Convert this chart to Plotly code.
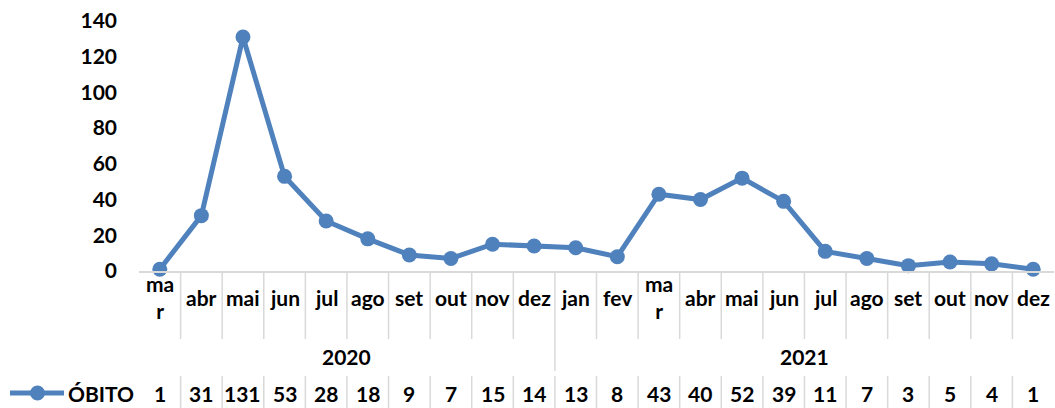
import plotly.graph_objects as go

months = ["mar", "abr", "mai", "jun", "jul", "ago", "set", "out", "nov", "dez",
          "jan", "fev", "mar", "abr", "mai", "jun", "jul", "ago", "set", "out", "nov", "dez"]
month_labels = ["ma<br>r" if m == "mar" else m for m in months]
years = ["2020", "2021"]
year_counts = [10, 12]
series_name = "ÓBITO"
obitos = [1, 31, 131, 53, 28, 18, 9, 7, 15, 14, 13, 8, 43, 40, 52, 39, 11, 7, 3, 5, 4, 1]
y_ticks = [0, 20, 40, 60, 80, 100, 120, 140]

W, H = 1055, 408
L, R_EDGE = 139, 1054
TOP, ZERO_Y = 21, 271
PH = ZERO_Y - TOP
PW = R_EDGE - L
COLOR = "#4F81BD"
GRID = "#D9D9D9"
FONT = dict(family="Lato", size=21, color="#000000")


def py(pix):
    return (ZERO_Y - pix) / PH


def px(pix):
    return (pix - L) / PW


n = len(obitos)
x = list(range(n))

fig = go.Figure()
fig.add_trace(go.Scatter(
    x=x, y=obitos, mode="lines+markers",
    line=dict(color=COLOR, width=5),
    marker=dict(color=COLOR, size=15),
    cliponaxis=False, showlegend=False, hoverinfo="skip",
))

annotations = []
shapes = []

# month labels
for i, lab in enumerate(month_labels):
    annotations.append(dict(x=i, y=py(297), xref="x", yref="paper", text=f"<b>{lab}</b>",
                            showarrow=False, font=FONT, xanchor="center", yanchor="middle"))
# data table values
for i, v in enumerate(obitos):
    annotations.append(dict(x=i, y=py(393), xref="x", yref="paper", text=f"<b>{v}</b>",
                            showarrow=False, font=FONT, xanchor="center", yanchor="middle"))
# year labels
start = 0
for yr, cnt in zip(years, year_counts):
    center = start - 0.5 + cnt / 2
    annotations.append(dict(x=center, y=py(356), xref="x", yref="paper", text=f"<b>{yr}</b>",
                            showarrow=False, font=FONT, xanchor="center", yanchor="middle"))
    start += cnt

# series label in table
annotations.append(dict(x=px(66), y=py(393), xref="paper", yref="paper", text=f"<b>{series_name}</b>",
                        showarrow=False, font=FONT, xanchor="left", yanchor="middle"))

# month dividers
year_bounds = []
acc = 0
for cnt in year_counts[:-1]:
    acc += cnt
    year_bounds.append(acc - 0.5)
for i in range(n - 1):
    b = i + 0.5
    y1 = py(371) if b in year_bounds else py(339)
    shapes.append(dict(type="line", xref="x", yref="paper", x0=b, x1=b, y0=py(272), y1=y1,
                       line=dict(color=GRID, width=1.5)))
    shapes.append(dict(type="line", xref="x", yref="paper", x0=b, x1=b, y0=py(376), y1=py(408),
                       line=dict(color=GRID, width=1.5)))

# legend key in table
shapes.append(dict(type="line", xref="paper", yref="paper", x0=px(10), x1=px(64), y0=py(393), y1=py(393),
                   line=dict(color=COLOR, width=5)))
shapes.append(dict(type="circle", xref="paper", yref="paper", x0=px(30), x1=px(45), y0=py(385.5), y1=py(400.5),
                   fillcolor=COLOR, line=dict(color=COLOR, width=0)))

fig.update_layout(
    width=W, height=H,
    margin=dict(l=L, r=W - R_EDGE, t=TOP, b=H - ZERO_Y),
    plot_bgcolor="white", paper_bgcolor="white",
    xaxis=dict(range=[-0.5, n - 0.5], showticklabels=False, showgrid=False, zeroline=False,
               showline=True, linecolor=GRID, linewidth=1.5, ticks=""),
    yaxis=dict(range=[0, 140], tickvals=y_ticks, ticktext=[f"<b>{t}</b>" for t in y_ticks],
               showgrid=False, zeroline=False, showline=False, tickfont=FONT,
               ticks="", ticklabelstandoff=21),
    annotations=annotations, shapes=shapes,
)

fig.write_html("out.html", config={"displayModeBar": False},
               post_script="document.body.style.margin='0';document.body.style.overflow='hidden';")
